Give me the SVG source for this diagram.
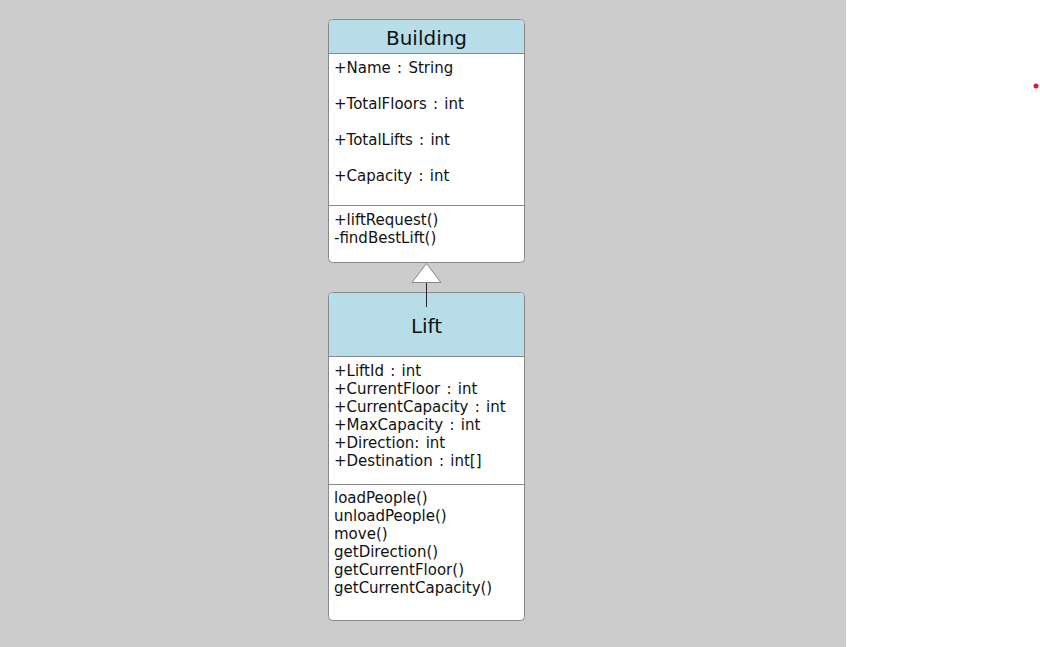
<svg xmlns="http://www.w3.org/2000/svg" width="1040" height="647" viewBox="0 0 1040 647">
<style>
.box{fill:#fff;stroke:#888;stroke-width:1}
.hdr{fill:#b7dde8}
.sep{stroke:#888;stroke-width:1}
.t{font-family:"DejaVu Sans",Verdana,sans-serif;font-size:15px;fill:#111;word-spacing:1.5px}
.ttl{font-family:"DejaVu Sans",Verdana,sans-serif;font-size:20px;fill:#111;text-anchor:middle}
.conn{stroke:#222;stroke-width:1;fill:none}
</style>
<rect x="0" y="0" width="1040" height="647" fill="#fff"/>
<rect x="0" y="0" width="846" height="647" fill="#cccccc"/>
<circle cx="1036" cy="86" r="2.5" fill="#e02020"/>
<g id="building">
<rect class="box" x="328.5" y="19.5" width="196" height="243" rx="4"/>
<path class="hdr" d="M332.5 20 H520.5 A3.5 3.5 0 0 1 524 23.5 V53 H329 V23.5 A3.5 3.5 0 0 1 332.5 20 Z"/>
<line class="sep" x1="329" y1="53.5" x2="524" y2="53.5"/>
<line class="sep" x1="329" y1="205.5" x2="524" y2="205.5"/>
<text class="ttl" x="426.5" y="45">Building</text>
<text class="t" x="334" y="73">+Name : String</text>
<text class="t" x="334" y="109">+TotalFloors : int</text>
<text class="t" x="334" y="145">+TotalLifts : int</text>
<text class="t" x="334" y="181">+Capacity : int</text>
<text class="t" x="334" y="225">+liftRequest()</text>
<text class="t" x="334" y="243">-findBestLift()</text>
</g>
<g id="lift">
<rect class="box" x="328.5" y="292.5" width="196" height="328" rx="4"/>
<path class="hdr" d="M332.5 293 H520.5 A3.5 3.5 0 0 1 524 296.5 V356 H329 V296.5 A3.5 3.5 0 0 1 332.5 293 Z"/>
<line class="sep" x1="329" y1="356.5" x2="524" y2="356.5"/>
<line class="sep" x1="329" y1="484.5" x2="524" y2="484.5"/>
<text class="ttl" x="426.5" y="333">Lift</text>
<text class="t" x="334" y="376">+LiftId : int</text>
<text class="t" x="334" y="394">+CurrentFloor : int</text>
<text class="t" x="334" y="412">+CurrentCapacity : int</text>
<text class="t" x="334" y="430">+MaxCapacity : int</text>
<text class="t" x="334" y="448">+Direction: int</text>
<text class="t" x="334" y="466">+Destination : int[]</text>
<text class="t" x="334" y="503">loadPeople()</text>
<text class="t" x="334" y="521">unloadPeople()</text>
<text class="t" x="334" y="539">move()</text>
<text class="t" x="334" y="557">getDirection()</text>
<text class="t" x="334" y="575">getCurrentFloor()</text>
<text class="t" x="334" y="593">getCurrentCapacity()</text>
</g>
<g id="connectors">
<line class="conn" x1="426.5" y1="307" x2="426.5" y2="282"/>
<polygon points="426.5,263.5 412,282.5 441,282.5" fill="#fff" stroke="#888" stroke-width="1"/>
</g>
</svg>
